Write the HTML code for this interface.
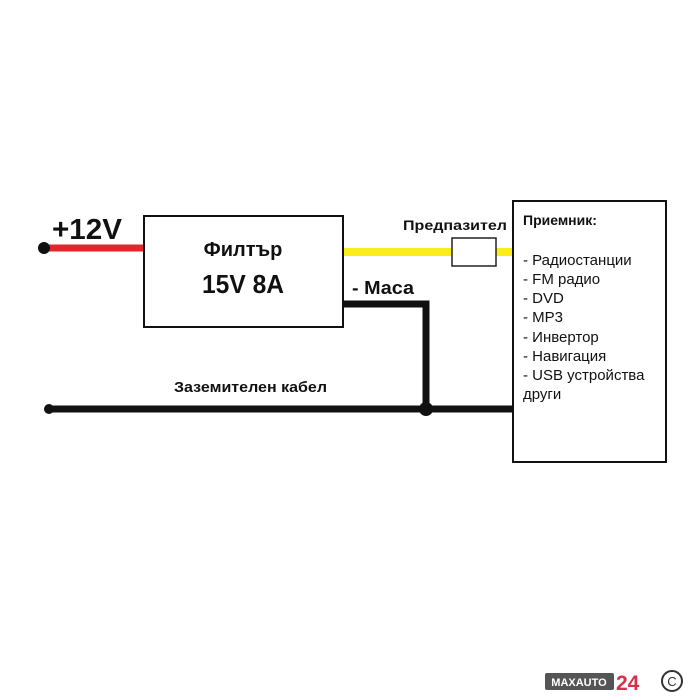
<!DOCTYPE html>
<html><head><meta charset="utf-8"><style>html,body{margin:0;padding:0;background:#fff}svg{display:block}</style></head>
<body>
<svg width="700" height="700" xmlns="http://www.w3.org/2000/svg" font-family="Liberation Sans, DejaVu Sans, sans-serif">
<rect width="700" height="700" fill="#fff"/>
<line x1="44" y1="248" x2="144" y2="248" stroke="#e3262b" stroke-width="7"/>
<circle cx="44" cy="248" r="6" fill="#111"/>
<text x="52" y="239" font-size="29" font-weight="bold" fill="#111" textLength="70" lengthAdjust="spacingAndGlyphs">+12V</text>
<rect x="144" y="216" width="199" height="111" fill="#fff" stroke="#111" stroke-width="2"/>
<text x="243" y="256" font-size="20" font-weight="bold" text-anchor="middle" fill="#111">Филтър</text>
<text x="243" y="293" font-size="26" font-weight="bold" text-anchor="middle" fill="#111" textLength="82" lengthAdjust="spacingAndGlyphs">15V 8A</text>
<line x1="344" y1="252" x2="513" y2="252" stroke="#fbec1b" stroke-width="8"/>
<rect x="452" y="238" width="44" height="28" fill="#fff" stroke="#222" stroke-width="1.5"/>
<text x="403" y="230" font-size="14" font-weight="bold" fill="#111" textLength="104" lengthAdjust="spacingAndGlyphs">Предпазител</text>
<polyline points="344,304 426,304 426,409" fill="none" stroke="#111" stroke-width="7"/>
<text x="352" y="294" font-size="18" font-weight="bold" fill="#111" textLength="62" lengthAdjust="spacingAndGlyphs">- Маса</text>
<line x1="48" y1="409" x2="513" y2="409" stroke="#111" stroke-width="7"/>
<circle cx="49" cy="409" r="5" fill="#111"/>
<circle cx="426" cy="409" r="7" fill="#111"/>
<text x="174" y="392" font-size="15" font-weight="bold" fill="#111" textLength="153" lengthAdjust="spacingAndGlyphs">Заземителен кабел</text>
<rect x="513" y="201" width="153" height="261" fill="#fff" stroke="#111" stroke-width="2"/>
<text x="523" y="225" font-size="14" font-weight="bold" fill="#111">Приемник:</text>
<g font-size="15" fill="#111">
<text x="523" y="265">- Радиостанции</text>
<text x="523" y="284">- FM радио</text>
<text x="523" y="303">- DVD</text>
<text x="523" y="322">- MP3</text>
<text x="523" y="342">- Инвертор</text>
<text x="523" y="361">- Навигация</text>
<text x="523" y="380">- USB устройства</text>
<text x="523" y="399">други</text>
</g>
<rect x="545" y="673" width="69" height="17" rx="2" fill="#555"/>
<text x="579" y="686" font-size="11" font-weight="bold" fill="#fff" text-anchor="middle">MAXAUTO</text>
<text x="616" y="690" font-size="21" font-weight="bold" fill="#d6314c">24</text>
<circle cx="672" cy="681" r="10" fill="none" stroke="#333" stroke-width="2"/>
<text x="672" y="686" font-size="13" fill="#333" text-anchor="middle">C</text>
</svg>
</body></html>
